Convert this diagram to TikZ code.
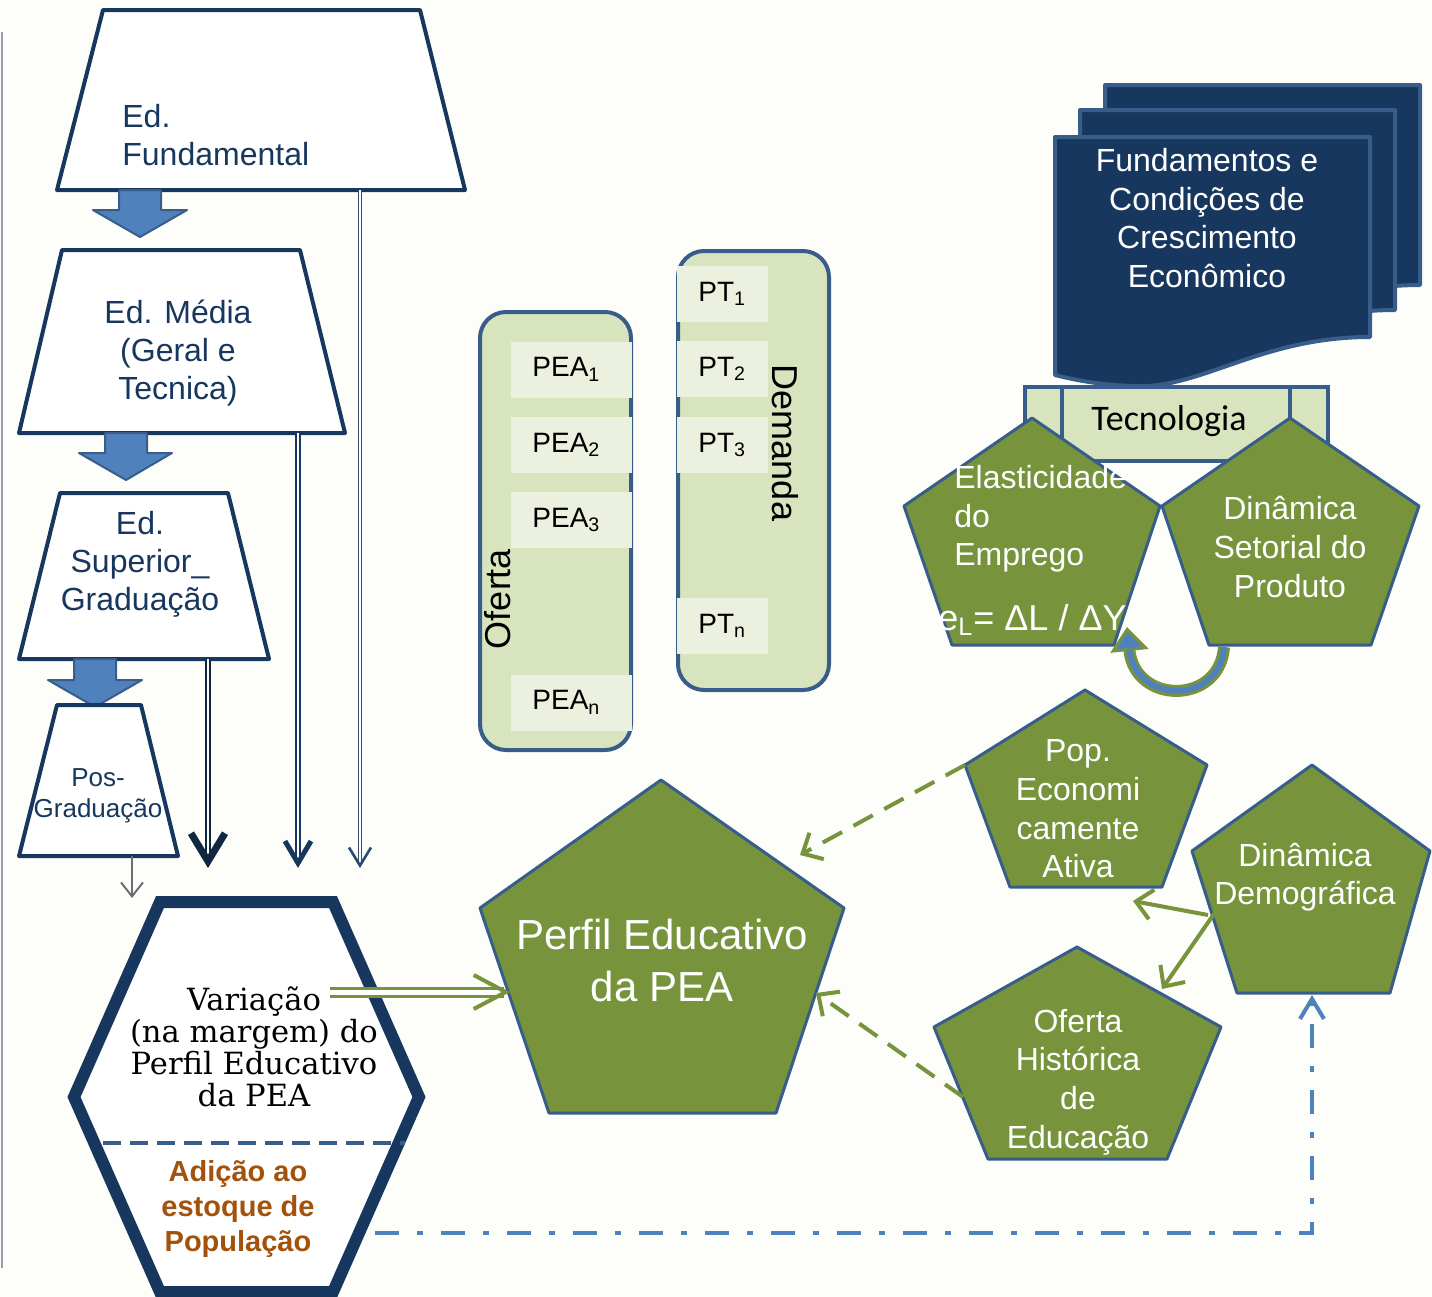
\documentclass[tikz,border=0pt]{standalone}
\usepackage{fontspec}
\setmainfont{Liberation Sans}
\newfontfamily\serifcam{DejaVu Serif}
\newfontfamily\calib{Carlito}
\usetikzlibrary{arrows.meta}
\definecolor{azulesc}{HTML}{17375E}
\definecolor{azulbor}{HTML}{385D8A}
\definecolor{azulseta}{HTML}{4F81BD}
\definecolor{verde}{HTML}{77933C}
\definecolor{verdeclaro}{HTML}{D7E4BD}
\definecolor{verdepalido}{HTML}{EBF1DE}
\definecolor{laranja}{HTML}{A3520C}
\definecolor{fundo}{HTML}{FDFEFA}
\definecolor{cinza}{HTML}{9A9CAA}

\begin{document}
\begin{tikzpicture}[x=0.5pt,y=-0.5pt]
\tikzset{nivel/.style = {draw=azulesc, line width=2pt, fill=white, line join=round}}
\tikzset{seta/.style = {fill=azulseta, draw=azulbor, line width=1pt, line join=round}}
\tikzset{txtnivel/.style = {text=azulesc, align=center, inner sep=0pt, font=\fontsize{16}{19}\selectfont}}
\tikzset{dupla/.style = {double=white, draw=azulesc, -{Straight Barb[line width=3pt]}}}
\tikzset{pent/.style = {fill=verde, draw=azulbor, line width=1.5pt, line join=round}}
\tikzset{txtpent/.style = {text=white, align=center, inner sep=0pt, font=\fontsize{16}{19.3}\selectfont}}
\tikzset{caixa/.style = {fill=verdeclaro, draw=azulbor, line width=2pt, rounded corners=13pt}}
\tikzset{item/.style = {fill=verdepalido, anchor=west, minimum height=28pt, inner xsep=10.5pt,
  align=left, text=black, font=\fontsize{14}{16}\selectfont}}
\tikzset{folha/.style = {fill=azulesc, draw=azulbor, line width=2pt, line join=round}}
\tikzset{tracejada/.style = {verde, line width=2pt, dash pattern=on 11pt off 6.5pt,
  -{Straight Barb[length=8pt,width=15pt,line width=2pt]}}}
\tikzset{ligacao/.style = {verde, line width=2pt, -{Straight Barb[length=8pt,width=15pt]}}}

% fundo
\fill[fundo] (0,0) rectangle (1432,1297);
\useasboundingbox (0,0) rectangle (1432,1297);
\draw[cinza, line width=0.8pt] (2,32) -- (2,1268);

% niveis de ensino
\draw[nivel] (103,10) -- (420,10) -- (465,190) -- (57,190) -- cycle;
\node[txtnivel, align=left, anchor=west] (fund) at (122,135) {Ed.\\Fundamental};
\draw[seta] (119,190) -- (161,190) -- (161,210) -- (187,210) -- (140,237) -- (93,210) -- (119,210) -- cycle;

\draw[nivel] (62,250) -- (300,250) -- (345,433) -- (19,433) -- cycle;
\node[txtnivel] (media) at (178,353) {Ed. Média\\(Geral e\\Tecnica)};
\draw[seta] (105,433) -- (147,433) -- (147,453) -- (172,453) -- (126,480) -- (79,453) -- (105,453) -- cycle;

\draw[nivel] (60,493) -- (228,493) -- (269,659) -- (19,659) -- cycle;
\node[txtnivel] (superior) at (140,564) {Ed.\\Superior\_\\Graduação};
\draw[seta] (74,659) -- (116,659) -- (116,680) -- (142,680) -- (95,707) -- (48,680) -- (74,680) -- cycle;

\draw[nivel] (57,705) -- (141,705) -- (178,856) -- (19,856) -- cycle;
\node[txtnivel, font=\fontsize{13}{15.5}\selectfont] (pos) at (98,796) {Pos-\\Graduação};

% saidas para o estoque
\coordinate (pos-s) at (132,856);   \coordinate (pos-e) at (132,898);
\coordinate (sup-s) at (208,659);   \coordinate (sup-e) at (208,868);
\coordinate (med-s) at (298,433);   \coordinate (med-e) at (298,868);
\coordinate (fun-s) at (360,190);   \coordinate (fun-e) at (360,868);
\draw[cinza!70!black, line width=1pt, -{Straight Barb[length=7pt,width=11pt,line width=1pt]}] (pos-s) -- (pos-e);
\draw[dupla, draw=azulesc!70!black, line width=1.2pt, double distance=1pt,
  -{Straight Barb[length=14pt,width=17pt,line width=3.5pt]}] (sup-s) -- (sup-e);
\draw[dupla, line width=0.9pt, double distance=0.8pt,
  -{Straight Barb[length=11pt,width=13pt,line width=2.5pt]}] (med-s) -- (med-e);
\draw[dupla, draw=azulbor!80!black, line width=0.6pt, double distance=0.6pt,
  -{Straight Barb[length=9pt,width=11pt,line width=1.3pt]}] (fun-s) -- (fun-e);

% estoque (hexagono)
\draw[azulesc, line width=6pt, fill=white, line join=miter]
  (160,902) -- (333,902) -- (419,1097) -- (333,1292) -- (160,1292) -- (74,1097) -- cycle;
\draw[azulbor, line width=2pt, dash pattern=on 9pt off 4.5pt] (103,1143) -- (405,1143);
\node[align=center, inner sep=0pt, font=\serifcam\fontsize{15.3}{16}\selectfont] (variacao) at (254,1047)
  {Variação\\(na margem) do\\Perfil Educativo\\da PEA};
\node[align=center, inner sep=0pt, text=laranja, font=\bfseries\fontsize{14.5}{17.5}\selectfont] (adicao) at (238,1209)
  {Adição ao\\estoque de\\População};

% oferta e demanda
\node[caixa, minimum width=75.5pt, minimum height=219pt] (oferta) at (555.5,531) {};
\node[item, text width=39.5pt] (pea1) at (511,369.5) {PEA\textsubscript{1}};
\node[item, text width=39.5pt] (pea2) at (511,445) {PEA\textsubscript{2}};
\node[item, text width=39.5pt] (pea3) at (511,520) {PEA\textsubscript{3}};
\node[item, text width=39.5pt] (pean) at (511,702.5) {PEA\textsubscript{n}};
\node[rotate=90, inner sep=0pt, font=\fontsize{18}{20}\selectfont] (oferta-t) at (498,599) {Oferta};

\node[caixa, minimum width=75.5pt, minimum height=219.5pt] (demanda) at (753.5,470.5) {};
\node[item, text width=24.5pt] (pt1) at (677,294) {PT\textsubscript{1}};
\node[item, text width=24.5pt] (pt2) at (677,369) {PT\textsubscript{2}};
\node[item, text width=24.5pt] (pt3) at (677,445) {PT\textsubscript{3}};
\node[item, text width=24.5pt] (ptn) at (677,626) {PT\textsubscript{n}};
\node[rotate=-90, inner sep=0pt, font=\fontsize{18}{20}\selectfont] (demanda-t) at (785,443) {Demanda};

% fundamentos
\foreach \dx/\dy in {50/-52, 25/-27, 0/0}
  \draw[folha, shift={(\dx,\dy)}] (1055,137) -- (1370,137) -- (1370,337)
    .. controls (1260,337) and (1200,390) .. (1133,386)
    .. controls (1100,385) and (1075,380) .. (1055,375) -- cycle;
\node[txtpent] (fundamentos) at (1207,218) {Fundamentos e\\Condições de\\Crescimento\\Econômico};

% tecnologia
\draw[fill=verdeclaro, draw=azulbor, line width=2pt] (1025,387) rectangle (1328,461);
\draw[azulbor, line width=2pt] (1062,387) -- (1062,461) (1290,387) -- (1290,461);
\node[inner sep=0pt, font=\calib\fontsize{18}{20}\selectfont] (tecnologia) at (1169,421) {Tecnologia};

% elasticidade e dinamica setorial
\draw[pent] (1032,418) -- (1160,506) -- (1114,645) coordinate (el-br) -- (952,645) -- (904,506) -- cycle;
\node[txtpent, align=left, anchor=west] (elasticidade) at (954,519) {Elasticidade\\do\\Emprego};
\node[text=white, inner sep=0pt, anchor=west, font=\fontsize{18}{20}\selectfont] (formula) at (938,620)
  {e\textsubscript{L}= ΔL / ΔY};
\draw[pent] (1290,418) -- (1419,506) -- (1371,645) -- (1209,645) -- (1162,506) -- cycle;
\node[txtpent] (setorial) at (1290,547) {Dinâmica\\Setorial do\\Produto};

\coordinate (curva-ini) at (1224,647);
\coordinate (curva-fim) at (1127,627);
\draw[verde, line width=6pt, -{Triangle[length=12pt,width=19pt,line width=1.5pt,fill=azulseta]}]
  (curva-ini) .. controls (1220,705) and (1135,705) .. (curva-fim);
\draw[azulseta, line width=3pt, shorten >=11pt]
  (curva-ini) .. controls (1220,705) and (1135,705) .. (curva-fim);

% perfil educativo
\draw[pent] (661,780) -- (844,908) -- (776,1113) -- (549,1113) -- (480,908) -- cycle;
\node[txtpent, font=\fontsize{21}{26}\selectfont] (perfil) at (662,960) {Perfil Educativo\\da PEA};

\draw[pent] (1085,690) -- (1207,765) -- (1162,887) -- (1010,887) -- (965,765) coordinate (pop-l) -- cycle;
\node[txtpent] (pop) at (1078,809) {Pop.\\Economi\\camente\\Ativa};

\draw[pent] (1312,765) -- (1430,851) -- (1390,993) -- (1237,993) -- (1192,851) -- cycle;
\node[txtpent] (demografica) at (1305,877) {Dinâmica\\Demográfica};

\draw[pent] (1077,947) -- (1221,1027) -- (1167,1159) -- (988,1159) -- (934,1027) -- cycle;
\node[txtpent] (historica) at (1078,1082) {Oferta\\Histórica\\de\\Educação};

% ligacoes
\coordinate (perfil-a) at (800,855);
\coordinate (perfil-b) at (816,993);
\coordinate (perfil-c) at (510,992);
\coordinate (var-d) at (330,992);
\coordinate (hist-l) at (963,1097);
\coordinate (dem-a) at (1208,915);
\coordinate (dem-b) at (1216,911);
\coordinate (pop-br) at (1133,901);
\coordinate (hist-tr) at (1162,989);
\coordinate (adicao-d) at (375,1233);
\coordinate (canto) at (1312,1233);
\coordinate (dem-b2) at (1312,995);

\draw[tracejada] (pop-l) -- (perfil-a);
\draw[tracejada] (hist-l) -- (perfil-b);
\draw[ligacao] (dem-a) -- (pop-br);
\draw[ligacao] (dem-b) -- (hist-tr);
\draw[verde, line width=1.5pt, double=white, double distance=2.5pt,
  -{Straight Barb[length=16pt,width=17pt,line width=2pt]}] (var-d) -- (perfil-c);
\draw[azulseta, line width=2pt, dash pattern=on 12pt off 9pt on 3pt off 9pt,
  -{Straight Barb[length=10pt,width=12pt,line width=2pt]}] (adicao-d) -- (canto) -- (dem-b2);
\end{tikzpicture}
\end{document}
